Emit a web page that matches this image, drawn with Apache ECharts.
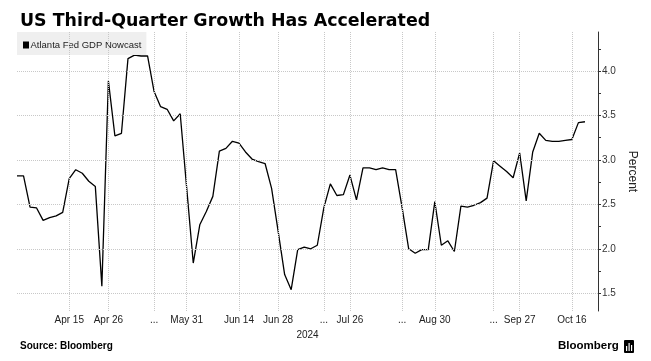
<!DOCTYPE html>
<html><head><meta charset="utf-8">
<script src="https://cdn.jsdelivr.net/npm/echarts@6/dist/echarts.min.js"></script>
<style>html,body{margin:0;padding:0;background:#fff}#c{width:651px;height:361px}</style>
</head><body><div id="c"></div>
<script>
const chartTitle = 'US Third-Quarter Growth Has Accelerated';
const seriesName = 'Atlanta Fed GDP Nowcast';
const nowcast = [
  2.82,2.82,2.47,2.46,2.32,2.35,2.37,2.41,2.79,2.89,
  2.85,2.76,2.70,1.58,3.89,3.27,3.30,4.14,4.18,4.17,
  4.17,3.77,3.60,3.57,3.44,3.52,2.68,1.84,2.27,2.42,
  2.59,3.10,3.13,3.21,3.19,3.09,3.01,2.98,2.96,2.68,
  2.20,1.71,1.54,1.99,2.02,2.00,2.04,2.46,2.73,2.60,
  2.61,2.83,2.55,2.91,2.91,2.89,2.91,2.89,2.89,2.46,
  2.00,1.95,1.99,1.99,2.53,2.04,2.09,1.97,2.48,2.47,
  2.49,2.52,2.57,2.99,2.93,2.87,2.80,3.08,2.54,3.09,
  3.30,3.22,3.21,3.21,3.22,3.23,3.42,3.43
];
const tickIndex = [8,14,21,26,34,40,47,51,59,64,73,77,85];
const tickLabels = ['Apr 15','Apr 26','...','May 31','Jun 14','Jun 28','...','Jul 26','...','Aug 30','...','Sep 27','Oct 16'];
const yearLabel = '2024';
const yLabelValues = [1.5,2.0,2.5,3.0,3.5,4.0];
const yTickValues = [1.5,1.75,2.0,2.25,2.5,2.75,3.0,3.25,3.5,3.75,4.0,4.25];
const padCount = 2;

const seriesData = nowcast.concat(new Array(padCount).fill(null));
const categories = seriesData.map((_, i) => 'pt' + i);
const labelAt = {};
tickIndex.forEach((idx, k) => { labelAt[idx] = tickLabels[k]; });

const chart = echarts.init(document.getElementById('c'), null, {renderer: 'canvas'});
chart.setOption({
  animation: false,
  backgroundColor: '#fff',
  textStyle: {fontFamily: '"Liberation Sans", Arial, sans-serif'},
  title: {
    text: chartTitle, left: 15, top: 8,
    textStyle: {fontFamily: '"DejaVu Sans", sans-serif', fontSize: 17.4, fontWeight: 'bold', color: '#000'}
  },
  legend: {
    data: [seriesName], left: 17, top: 32, icon: 'none', itemWidth: 0,
    backgroundColor: '#efefef', padding: [6, 5, 5, 1],
    formatter: n => '{sq|}{g|}' + n,
    textStyle: {fontSize: 9.5, color: '#222',
      rich: {sq: {width: 6, height: 7, backgroundColor: '#000'}, g: {width: 1.5}}}
  },
  grid: {left: 17, right: 53, top: 32, bottom: 50, containLabel: false},
  xAxis: {
    type: 'category', data: categories, boundaryGap: false,
    axisLine: {show: false}, axisTick: {show: false}, splitLine: {show: false},
    axisLabel: {
      interval: (i) => labelAt[i] !== undefined,
      formatter: (v, i) => labelAt[i] || '',
      margin: 4, fontSize: 10, color: '#222'
    },
    name: yearLabel, nameLocation: 'middle', nameGap: 17,
    nameTextStyle: {fontSize: 10, color: '#222'}
  },
  yAxis: {
    type: 'value', position: 'right', min: 1.3, max: 4.44,
    axisLine: {show: true, lineStyle: {color: '#333', width: 1}},
    axisTick: {show: true, customValues: yTickValues, length: 3, lineStyle: {color: '#333'}},
    axisLabel: {customValues: yLabelValues, formatter: v => v.toFixed(1), margin: 4, fontSize: 10, color: '#333'},
    splitLine: {show: false},
    name: 'Percent', nameLocation: 'middle', nameRotate: -90, nameGap: 26,
    nameTextStyle: {fontSize: 12, color: '#222'}
  },
  series: [
    {
      name: '__grid', type: 'line', data: [], silent: true, z: 1,
      markLine: {
        silent: true, symbol: 'none', animation: false,
        label: {show: false},
        lineStyle: {type: 'dotted', color: '#c8c8c8', width: 1},
        emphasis: {disabled: true},
        data: yLabelValues.map(v => ({yAxis: v})).concat(tickIndex.map(i => ({xAxis: i})))
      }
    },
    {
      name: seriesName, type: 'line', data: seriesData, symbol: 'none', z: 3,
      lineStyle: {color: '#000', width: 1.3}, itemStyle: {color: '#000'}
    }
  ],
  graphic: [
    {type: 'text', left: 20, top: 341, style: {text: 'Source: Bloomberg', font: 'bold 10px "Liberation Sans", Arial', fill: '#000'}},
    {type: 'text', left: 558, top: 340, style: {text: 'Bloomberg', font: 'bold 11.5px "Liberation Sans", Arial', fill: '#000'}},
    {type: 'rect', left: 624, top: 340, shape: {width: 10, height: 13, r: 1}, style: {fill: '#000'}},
    {type: 'rect', left: 626, top: 346, shape: {width: 1.2, height: 5}, style: {fill: '#fff'}},
    {type: 'rect', left: 628.5, top: 343, shape: {width: 1.2, height: 8}, style: {fill: '#fff'}},
    {type: 'rect', left: 631, top: 345, shape: {width: 1.2, height: 6}, style: {fill: '#fff'}}
  ]
});
</script>
</body></html>
